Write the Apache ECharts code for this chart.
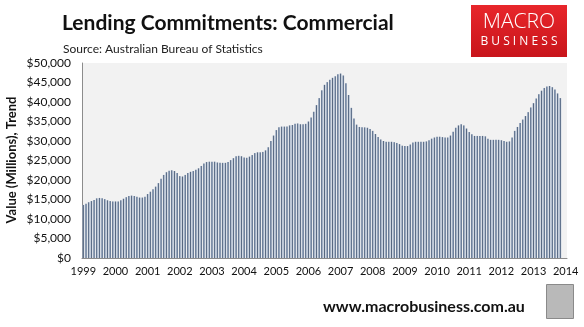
<!DOCTYPE html>
<html>
<head>
<meta charset="utf-8">
<script src="https://cdn.jsdelivr.net/npm/echarts@6/dist/echarts.min.js"></script>
<style>
  html, body { margin: 0; padding: 0; background: #ffffff; }
  #chart { width: 584px; height: 327px; }
</style>
</head>
<body>
<div id="chart"></div>
<script>
// Commercial lending commitments, trend, $ millions (monthly, Jan 1999 - Nov 2013)
const v1999 = [13600, 13900, 14300, 14600, 14900, 15300, 15400, 15300, 15100, 14800, 14600, 14500];
const v2000 = [14500, 14500, 14800, 15200, 15600, 15900, 16000, 15900, 15700, 15500, 15500, 15700];
const v2001 = [16400, 17000, 17600, 18300, 19200, 20300, 21300, 22000, 22400, 22500, 22300, 21800];
const v2002 = [21000, 20900, 21300, 21800, 22100, 22300, 22600, 23000, 23600, 24200, 24600, 24700];
const v2003 = [24700, 24700, 24500, 24400, 24400, 24400, 24600, 25100, 25600, 26100, 26200, 26100];
const v2004 = [25800, 25700, 26000, 26400, 26900, 27100, 27100, 27200, 27600, 28400, 30000, 31400];
const v2005 = [32800, 33500, 33700, 33700, 33700, 34000, 34100, 34400, 34500, 34300, 34300, 34400];
const v2006 = [35000, 36000, 37500, 39200, 41000, 43000, 44400, 45100, 45700, 46200, 46600, 47100];
const v2007 = [47300, 46800, 44800, 41800, 38500, 35800, 34200, 33600, 33500, 33500, 33400, 33100];
const v2008 = [32600, 31800, 31000, 30400, 30000, 29800, 29800, 29800, 29700, 29500, 29200, 28800];
const v2009 = [28700, 28700, 29100, 29600, 29800, 29800, 29800, 29800, 29900, 30200, 30600, 30900];
const v2010 = [31100, 31100, 31000, 30900, 30900, 31400, 32400, 33400, 34000, 34300, 34000, 33200];
const v2011 = [32300, 31700, 31300, 31300, 31300, 31300, 31200, 30600, 30300, 30300, 30300, 30300];
const v2012 = [30200, 30000, 29800, 29900, 30900, 32600, 33600, 34600, 35500, 36400, 37400, 38600];
const v2013 = [39700, 40900, 42000, 42900, 43600, 44000, 44100, 43800, 43200, 42200, 41000];

const yearSeries = [v1999, v2000, v2001, v2002, v2003, v2004, v2005, v2006,
                    v2007, v2008, v2009, v2010, v2011, v2012, v2013];
const firstYear = 1999;
const lastYear = 2014;

// Month categories run from Jan 1999 through Jan 2014 so the 2014 label sits at the axis end
const months = [];
for (let y = firstYear; y <= lastYear; y++) {
  const upto = (y === lastYear) ? 1 : 12;
  for (let m = 1; m <= upto; m++) months.push(y + '-' + String(m).padStart(2, '0'));
}
const values = [].concat(...yearSeries);

const yTicks = { min: 0, max: 50000, step: 5000 };

const chart = echarts.init(document.getElementById('chart'), null, { renderer: 'canvas' });

const isJan = (idx, name) => name.slice(5) === '01';

chart.setOption({
  animation: false,
  backgroundColor: '#ffffff',
  title: [
    {
      text: 'Lending Commitments: Commercial',
      left: 57, top: 8,
      textStyle: { fontFamily: 'Lato', fontWeight: 'bold', fontSize: 21, color: '#111111' }
    },
    {
      text: 'Source: Australian Bureau of Statistics',
      left: 58, top: 38,
      textStyle: { fontFamily: 'Lato', fontWeight: 'normal', fontSize: 12, color: '#222222' }
    },
    {
      text: 'www.macrobusiness.com.au',
      left: 318, top: 294,
      textStyle: { fontFamily: 'Lato', fontWeight: 'bold', fontSize: 16, color: '#111111' }
    }
  ],
  graphic: [
    // brand badge
    {
      type: 'rect', left: 471, top: 5,
      shape: { width: 96, height: 52 },
      style: {
        fill: new echarts.graphic.LinearGradient(0, 0, 0, 1, [
          { offset: 0, color: '#e8262b' }, { offset: 1, color: '#c8151b' }
        ])
      }
    },
    {
      type: 'text', position: [0, 0],
      style: { text: 'MACRO', fill: '#ffffff', font: '300 21px "Open Sans"', x: 519, y: 12, textAlign: 'center' }
    },
    {
      type: 'text', position: [0, 0],
      style: { text: 'B U S I N E S S', fill: '#ffffff', font: '12px "Open Sans"', x: 519, y: 36, textAlign: 'center' }
    },
    // small emblem beside the web address
    {
      type: 'rect', left: 546, top: 284,
      shape: { width: 27, height: 34 },
      style: { fill: '#b9b9b9', stroke: '#8a8a8a', lineWidth: 1 }
    },
    {
      type: 'text', position: [0, 0], rotation: Math.PI / 2,
      style: {
        text: 'Value (Millions), Trend', fill: '#111111',
        font: 'bold 13px Lato', x: -160, y: 12, textAlign: 'center', textVerticalAlign: 'middle'
      }
    }
  ],
  grid: { left: 82, right: 17, top: 63, bottom: 69, show: true, backgroundColor: '#f2f2f2', borderWidth: 0 },
  xAxis: {
    type: 'category',
    data: months,
    boundaryGap: true,
    axisLine: { lineStyle: { color: '#8c8c8c', width: 1 } },
    axisTick: { show: false },
    axisLabel: {
      interval: isJan,
      formatter: (name) => name.slice(0, 4),
      fontFamily: 'Lato', fontSize: 11, color: '#111111', margin: 8
    },
    splitLine: { show: false }
  },
  yAxis: {
    type: 'value',
    min: yTicks.min, max: yTicks.max, interval: yTicks.step,
    axisLine: { show: true, lineStyle: { color: '#8c8c8c', width: 1 } },
    axisTick: { show: false },
    splitLine: { show: false },
    axisLabel: {
      formatter: (v) => '$' + v.toLocaleString('en-US'),
      fontFamily: 'Lato', fontSize: 12, color: '#111111', margin: 11
    }
  },
  series: [{
    type: 'bar',
    data: values,
    barCategoryGap: '35%',
    itemStyle: {
      color: new echarts.graphic.LinearGradient(0, 0, 1, 0, [
        { offset: 0, color: '#8fa3c0' },
        { offset: 0.5, color: '#55667f' },
        { offset: 1, color: '#8fa3c0' }
      ])
    }
  }]
});
</script>
</body>
</html>
